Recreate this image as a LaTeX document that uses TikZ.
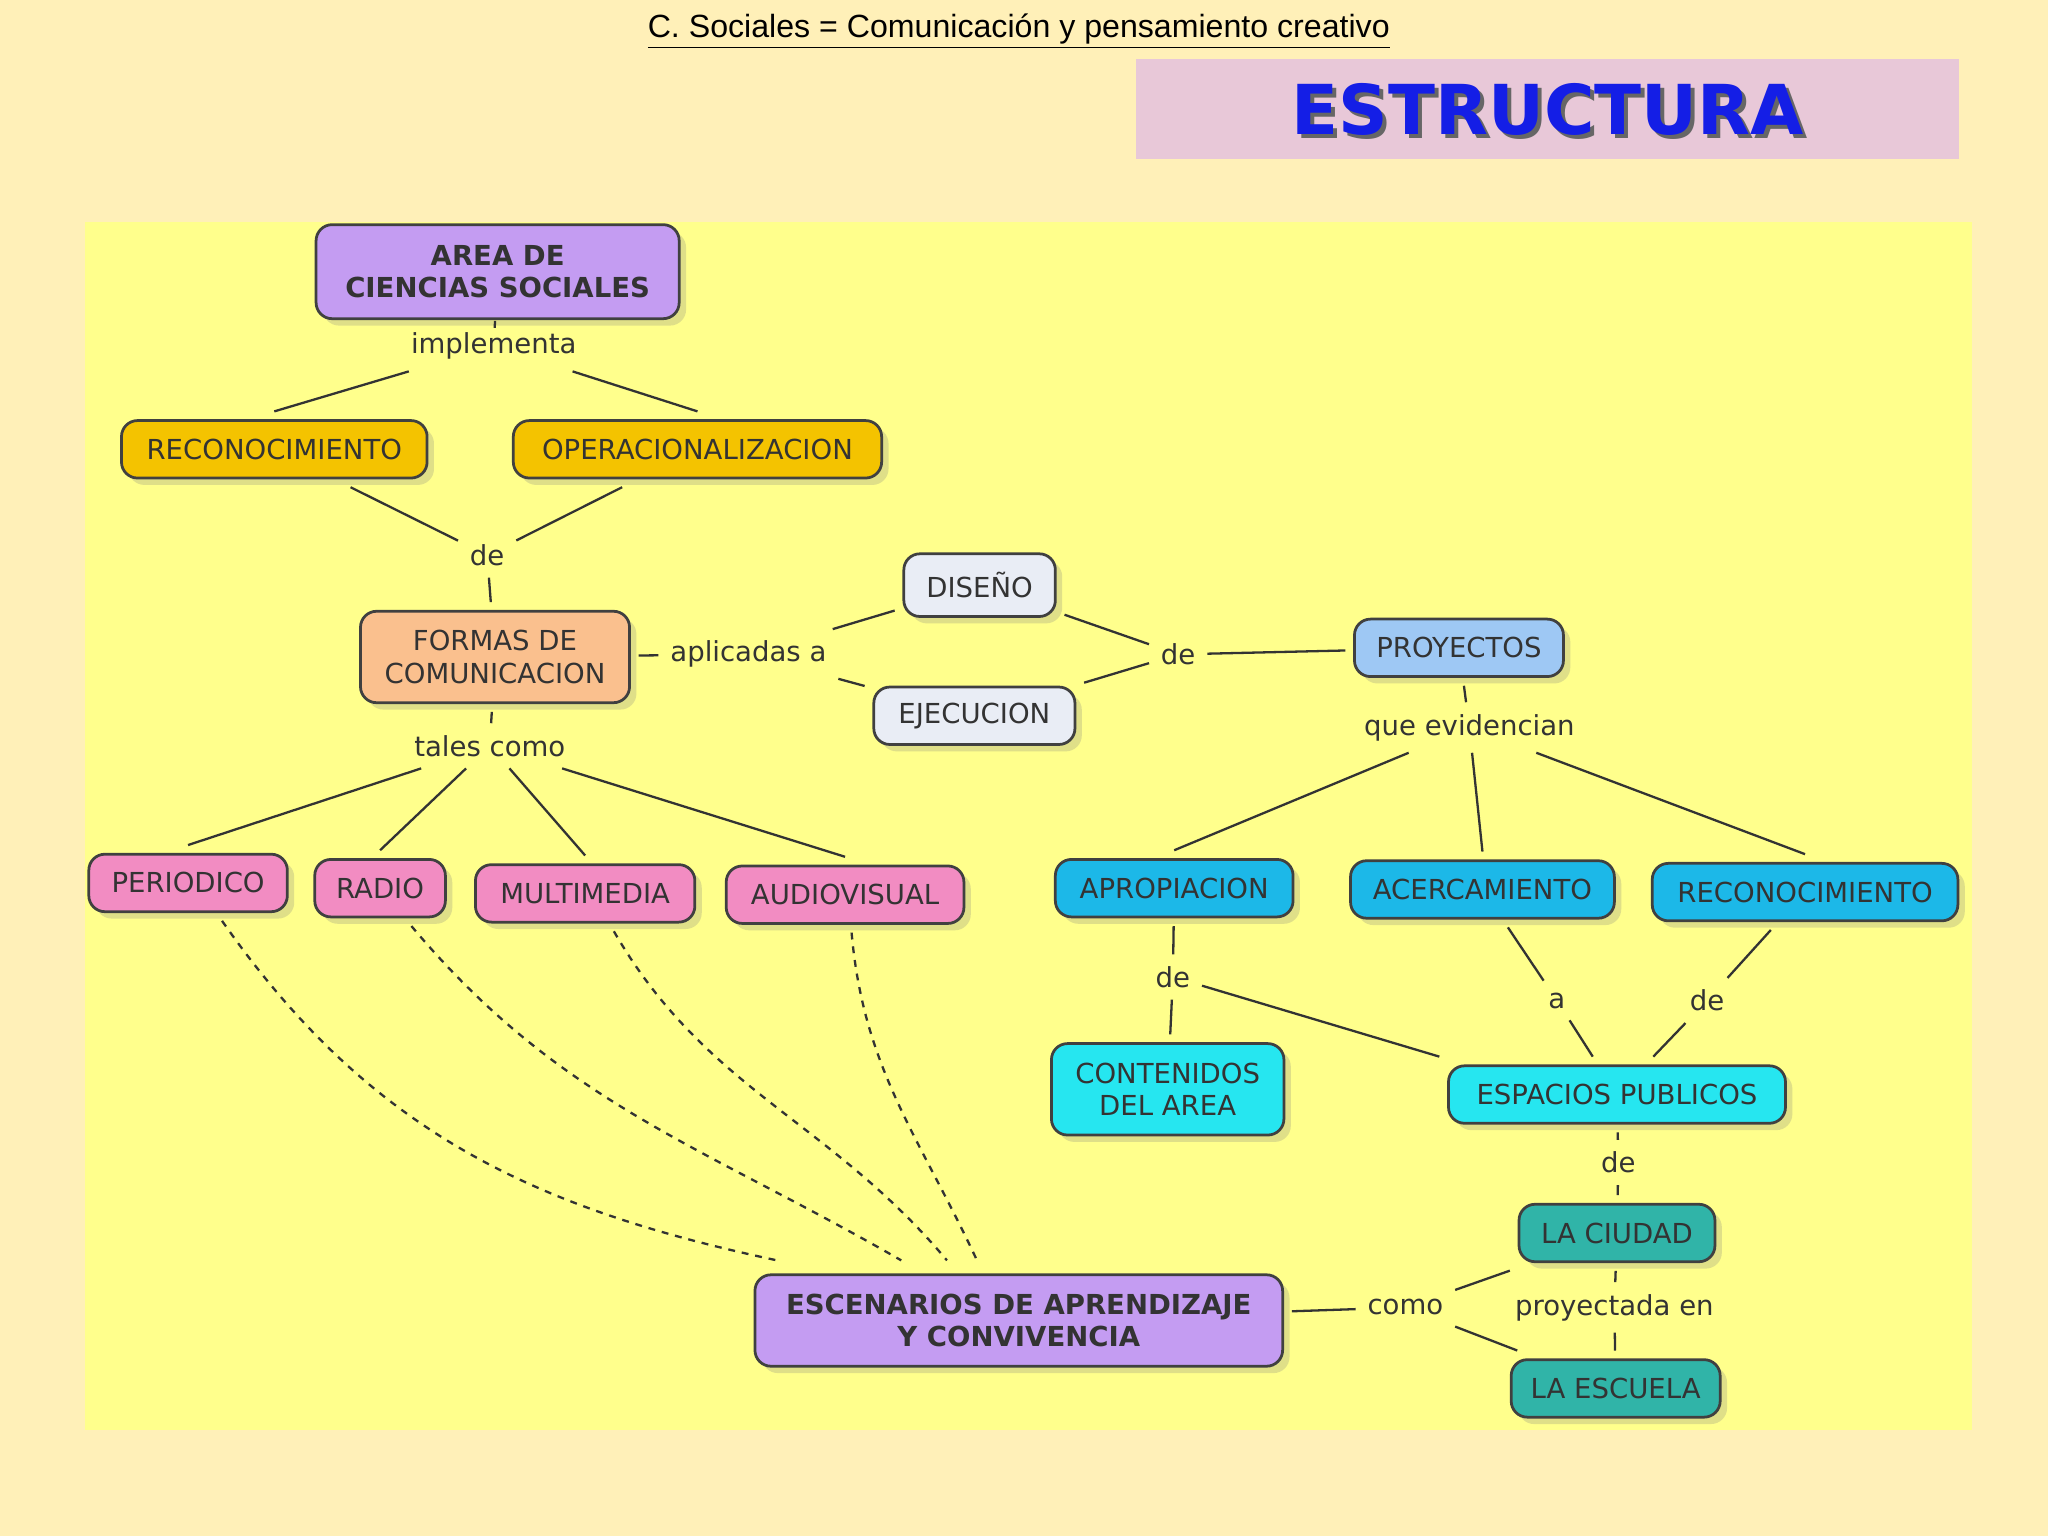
\documentclass[tikz,border=0pt]{standalone}
\usepackage{fontspec}
\setmainfont{DejaVu Sans}
\newfontfamily\arialf{Liberation Sans}
\usetikzlibrary{shadows,calc}
\definecolor{bgc}{HTML}{FFF0B8}
\definecolor{panel}{HTML}{FFFF8C}
\definecolor{pinkt}{HTML}{E8C8D8}
\definecolor{bluet}{HTML}{141EE6}
\definecolor{purp}{HTML}{C49CF2}
\definecolor{gold}{HTML}{F4C300}
\definecolor{peach}{HTML}{FAC08E}
\definecolor{pale}{HTML}{E9EDF5}
\definecolor{lblue}{HTML}{9EC8F4}
\definecolor{pinkc}{HTML}{F28CC2}
\definecolor{blu}{HTML}{1CB8E8}
\definecolor{cyn}{HTML}{26E6F0}
\definecolor{teal}{HTML}{30B4A8}
\definecolor{txt}{HTML}{333333}
\tikzset{x=0.02cm,y=-0.02cm,
 box/.style={draw=black!75,line width=1.2pt,rounded corners=7pt,align=center,font=\fontsize{12}{14}\selectfont,text=txt,inner sep=0pt,drop shadow={opacity=0.25,shadow xshift=3pt,shadow yshift=-3pt},outer sep=4pt},
 lab/.style={font=\fontsize{12}{14}\selectfont,text=txt,inner sep=5pt},
 ln/.style={draw=black!80,line width=1pt},
 dl/.style={draw=black!80,line width=1pt,dashed}}
\begin{document}
\begin{tikzpicture}
\useasboundingbox (0,0) rectangle (1568,1176);
\fill[bgc] (0,0) rectangle (1568,1176);
\fill[panel] (65,170) rectangle (1510,1095);
\node[font=\arialf\fontsize{14}{16}\selectfont] (title) at (780,24) {\underline{C. Sociales = Comunicación y pensamiento creativo}};
\fill[pinkt] (870,45) rectangle (1500,122);
\node[font=\bfseries\fontsize{30}{32}\selectfont,text=black!60] (estsh) at (1188,87) {ESTRUCTURA};
\node[font=\bfseries\fontsize{30}{32}\selectfont,text=bluet] (est) at (1185,84) {ESTRUCTURA};
\node[box,fill=purp,minimum width=278*0.02cm,minimum height=72*0.02cm,font=\bfseries\fontsize{12}{14}\selectfont] (area) at (381,208) {AREA DE\\CIENCIAS SOCIALES};
\node[lab] (impl) at (378,265) {implementa};
\node[box,fill=gold,minimum width=234*0.02cm,minimum height=44*0.02cm] (rec) at (210,344) {RECONOCIMIENTO};
\node[box,fill=gold,minimum width=282*0.02cm,minimum height=44*0.02cm] (oper) at (534,344) {OPERACIONALIZACION};
\node[lab] (de1) at (373,425) {de};
\node[box,fill=peach,minimum width=206*0.02cm,minimum height=70*0.02cm] (formas) at (379,503) {FORMAS DE\\COMUNICACION};
\node[lab] (apl) at (573,501) {aplicadas a};
\node[box,fill=pale,minimum width=116*0.02cm,minimum height=48*0.02cm] (dis) at (750,448) {DISEÑO};
\node[box,fill=pale,minimum width=154*0.02cm,minimum height=44*0.02cm] (eje) at (746,548) {EJECUCION};
\node[lab] (de2) at (902,501) {de};
\node[box,fill=lblue,minimum width=160*0.02cm,minimum height=44*0.02cm] (proy) at (1117,496) {PROYECTOS};
\node[lab] (que) at (1125,557) {que evidencian};
\node[lab] (tales) at (375,571) {tales como};
\node[box,fill=pinkc,minimum width=152*0.02cm,minimum height=44*0.02cm] (per) at (144,676) {PERIODICO};
\node[box,fill=pinkc,minimum width=100*0.02cm,minimum height=44*0.02cm] (rad) at (291,680) {RADIO};
\node[box,fill=pinkc,minimum width=168*0.02cm,minimum height=44*0.02cm] (mul) at (448,684) {MULTIMEDIA};
\node[box,fill=pinkc,minimum width=182*0.02cm,minimum height=44*0.02cm] (aud) at (647,685) {AUDIOVISUAL};
\node[box,fill=blu,minimum width=182*0.02cm,minimum height=44*0.02cm] (apro) at (899,680) {APROPIACION};
\node[box,fill=blu,minimum width=202*0.02cm,minimum height=44*0.02cm] (acer) at (1135,681) {ACERCAMIENTO};
\node[box,fill=blu,minimum width=234*0.02cm,minimum height=44*0.02cm] (rec2) at (1382,683) {RECONOCIMIENTO};
\node[lab] (de3) at (898,748) {de};
\node[lab] (a1) at (1192,766) {a};
\node[lab] (de4) at (1307,766) {de};
\node[box,fill=cyn,minimum width=178*0.02cm,minimum height=70*0.02cm] (cont) at (894,834) {CONTENIDOS\\DEL AREA};
\node[box,fill=cyn,minimum width=258*0.02cm,minimum height=44*0.02cm] (esp) at (1238,838) {ESPACIOS PUBLICOS};
\node[lab] (de5) at (1239,890) {de};
\node[box,fill=teal,minimum width=150*0.02cm,minimum height=44*0.02cm] (ciu) at (1238,944) {LA CIUDAD};
\node[lab] (pro) at (1236,1001) {proyectada en};
\node[box,fill=teal,minimum width=160*0.02cm,minimum height=44*0.02cm] (esc) at (1237,1063) {LA ESCUELA};
\node[lab] (como) at (1076,1001) {como};
\node[box,fill=purp,minimum width=404*0.02cm,minimum height=70*0.02cm,font=\bfseries\fontsize{12}{14}\selectfont] (escen) at (780,1011) {ESCENARIOS DE APRENDIZAJE\\Y CONVIVENCIA};
% connectors
\draw[ln] (area) -- (impl);
\draw[ln] (impl) -- (rec.north);
\draw[ln] (impl) -- (oper.north);
\draw[ln] (rec) -- (de1);
\draw[ln] (oper) -- (de1);
\draw[ln] (de1) -- (formas);
\draw[ln] (formas) -- (apl);
\draw[ln] (apl) -- (dis);
\draw[ln] (apl) -- (eje);
\draw[ln] (dis) -- (de2);
\draw[ln] (eje) -- (de2);
\draw[ln] (de2) -- (proy);
\draw[ln] (formas) -- (tales);
\draw[ln] (tales) -- (per.north);
\draw[ln] (tales) -- (rad.north);
\draw[ln] (tales) -- (mul.north);
\draw[ln] (tales) -- (aud.north);
\draw[ln] (proy) -- (que);
\draw[ln] (que) -- (apro.north);
\draw[ln] (que) -- (acer.north);
\draw[ln] (que) -- (rec2.north);
\draw[ln] (apro) -- (de3);
\draw[ln] (de3) -- (cont);
\draw[ln] (de3) -- (esp.north west);
\draw[ln] (acer) -- (a1);
\draw[ln] (a1) -- (esp);
\draw[ln] (rec2) -- (de4);
\draw[ln] (de4) -- (esp);
\draw[ln] (esp) -- (de5);
\draw[ln] (de5) -- (ciu);
\draw[ln] (ciu) -- (pro);
\draw[ln] (pro) -- (esc);
\draw[ln] (escen) -- (como);
\draw[ln] (como) -- (ciu);
\draw[ln] (como) -- (esc);
\draw[dl] ($(per.south)+(26,0)$) to[out=-55,in=168] ($(escen.north)+(-185,-4)$);
\draw[dl] ($(rad.south)+(24,0)$) to[out=-50,in=150] ($(escen.north)+(-90,-4)$);
\draw[dl] ($(mul.south)+(22,0)$) to[out=-60,in=130] ($(escen.north)+(-55,-4)$);
\draw[dl] ($(aud.south)+(5,0)$) to[out=-85,in=115] ($(escen.north)+(-32,-4)$);
\end{tikzpicture}
\end{document}
